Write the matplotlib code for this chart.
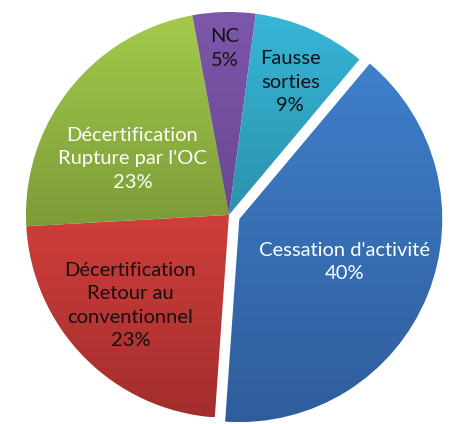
import numpy as np
import matplotlib
matplotlib.use("Agg")
import matplotlib.pyplot as plt
from matplotlib.colors import LinearSegmentedColormap

labels = ["Cessation d'activité", "Décertification\nRetour au\nconventionnel",
          "Décertification\nRupture par l'OC", "NC", "Fausse\nsorties"]
values = [40, 23, 23, 5, 9]
top_colors = ["#3f7fca", "#cf3e3b", "#a3ca4c", "#7d57aa", "#37b6d8"]
bot_colors = ["#2f5d9c", "#a32e2d", "#7c9c38", "#6a4894", "#2b92ab"]
text_colors = ["white", "#111111", "white", "#111111", "#111111"]
explode = [0.055, 0, 0, 0, 0]
label_r = [0.56, 0.66, 0.55, 0.82, 0.72]
label_dang = [0, -2, 8, 0, -1]

plt.rcParams['font.family'] = ['Lato', 'DejaVu Sans']

fig = plt.figure(figsize=(4.51, 4.24), dpi=100)
ax = fig.add_axes([0, 0, 1, 1])
wedges, _ = ax.pie(values, startangle=50, counterclock=False, explode=explode,
                   radius=1.0, wedgeprops=dict(linewidth=0))
ax.set_aspect('equal')
ax.axis('off')

grad = np.linspace(1, 0, 256).reshape(-1, 1)
for w, tc, bc in zip(wedges, top_colors, bot_colors):
    ext = w.get_path().get_extents()
    cmap = LinearSegmentedColormap.from_list("g", [bc, tc])
    im = ax.imshow(grad, cmap=cmap, extent=[ext.x0, ext.x1, ext.y0, ext.y1],
                   aspect='auto', origin='upper', zorder=1, interpolation='bilinear')
    im.set_clip_path(w)
    w.set_facecolor('none')

ax.set_xlim(-1.128, 1.094)
ax.set_ylim(-1.030, 1.059)

for w, lab, v, c, fr, da in zip(wedges, labels, values, text_colors, label_r, label_dang):
    ang = np.deg2rad((w.theta1 + w.theta2) / 2 + da)
    cx, cy = w.center
    x = cx + fr * w.r * np.cos(ang)
    y = cy + fr * w.r * np.sin(ang)
    ax.text(x, y, f"{lab}\n{v}%", ha='center', va='center', color=c,
            fontsize=14.5, linespacing=1.45, zorder=3)

fig.savefig("out.png", dpi=100, facecolor='white')
